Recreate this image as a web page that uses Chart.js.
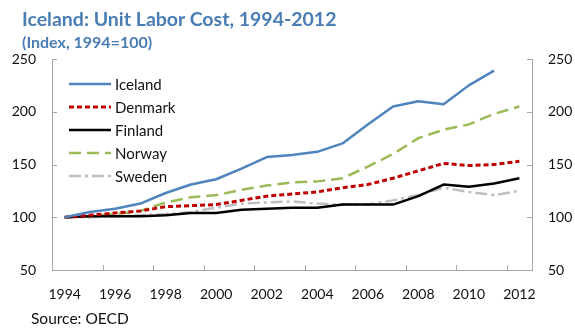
<!DOCTYPE html>
<html lang="en">
<head>
  <meta charset="UTF-8" />
  <title>Iceland: Unit Labor Cost</title>
  <script src="https://cdn.jsdelivr.net/npm/chart.js"></script>
  <style>
    html, body {
      margin: 0;
      padding: 0;
      background: #fff;
      overflow: hidden;
    }
    .wrap {
      position: relative;
      width: 575px;
      height: 329px;
      font-family: Lato, sans-serif;
    }
    .title, .subtitle, #source {
      position: absolute;
      white-space: nowrap;
    }
    .title {
      left: 22px;
      top: 6.5px;
      font-size: 19.5px;
      line-height: 24px;
      font-weight: bold;
      color: #4a7db4;
    }
    .subtitle {
      left: 22px;
      top: 32px;
      font-size: 16px;
      line-height: 19px;
      font-weight: bold;
      color: #4a7db4;
    }
    #source {
      left: 31px;
      top: 309px;
      font-size: 15.5px;
      color: #111;
    }
  </style>
</head>
<body>
<div class="wrap">
  <canvas id="myChart"></canvas>
  <div class="title">Iceland: Unit Labor Cost, 1994-2012</div>
  <div class="subtitle">(Index, 1994=100)</div>
  <div id="source">Source: OECD</div>
</div>

<script>
  const years = ['1994','1995','1996','1997','1998','1999','2000','2001','2002','2003',
                 '2004','2005','2006','2007','2008','2009','2010','2011','2012'];
  const iceland = [100,105,108,113,123,131,136,146,157,159,162,170,188,205,210,207,225,239,null];
  const denmark = [100,102,104,106,110,111,112,116,120,122,124,128,131,137,144,151,149,150,153];
  const finland = [100,101,101,101,102,104,104,107,108,109,109,112,112,112,120,131,129,132,137];
  const norway  = [100,101,103,106,114,119,121,126,130,133,134,137,148,160,175,183,188,198,205];
  const sweden  = [100,100,101,102,103,105,109,113,114,115,113,112,112,116,121,128,124,121,125];
  const yTicks  = [50, 100, 150, 200, 250];

  const font = 'Lato, sans-serif';

  // small tick marks pointing into the plot, like the original
  const innerTicks = {
    id: 'innerTicks',
    afterDraw(chart) {
      const { ctx, chartArea: a, scales } = chart;
      ctx.save();
      ctx.strokeStyle = '#a6a6a6';
      ctx.lineWidth = 1;
      ctx.beginPath();
      yTicks.forEach(v => {
        const y = Math.round(scales.y.getPixelForValue(v)) + 0.5;
        ctx.moveTo(a.left, y); ctx.lineTo(a.left + 5, y);
        ctx.moveTo(a.right, y); ctx.lineTo(a.right - 5, y);
      });
      for (let i = 2; i < years.length; i += 2) {
        const x = Math.round((scales.x.getPixelForValue(i - 1) + scales.x.getPixelForValue(i)) / 2) + 0.5;
        ctx.moveTo(x, a.bottom); ctx.lineTo(x, a.bottom - 5);
      }
      ctx.stroke();
      ctx.restore();
    }
  };

  // legend drawn inside the plot, top left
  const insideLegend = {
    id: 'insideLegend',
    afterDraw(chart) {
      const { ctx, chartArea: a } = chart;
      ctx.save();
      ctx.font = '15px ' + font;
      ctx.textBaseline = 'middle';
      chart.data.datasets.forEach((ds, i) => {
        const y = a.top + 25 + i * 23;
        const x = a.left + 17;
        ctx.strokeStyle = ds.borderColor;
        ctx.lineWidth = ds.borderWidth;
        ctx.setLineDash(ds.borderDash || []);
        ctx.beginPath();
        ctx.moveTo(x, y); ctx.lineTo(x + 42, y);
        ctx.stroke();
        ctx.setLineDash([]);
        ctx.fillStyle = '#111';
        ctx.fillText(ds.label, x + 46, y + 1);
      });
      ctx.restore();
    }
  };

  const line = (label, data, color, width, dash) => ({
    label, data,
    borderColor: color,
    backgroundColor: color,
    borderWidth: width,
    borderDash: dash,
    pointRadius: 0,
    tension: 0,
    borderJoinStyle: 'round',
    spanGaps: false
  });

  const ctx = document.getElementById('myChart').getContext('2d');
  const chart = new Chart(ctx, {
    type: 'line',
    data: {
      labels: years,
      datasets: [
        line('Iceland', iceland, '#4f84bd', 2.5, []),
        line('Denmark', denmark, '#c00000', 3, [5, 3]),
        line('Finland', finland, '#000000', 2.5, []),
        line('Norway', norway, '#9bbb59', 2.5, [12, 6]),
        line('Sweden', sweden, '#bfbfbf', 2.5, [12, 4, 3, 4])
      ]
    },
    options: {
      responsive: true,
      maintainAspectRatio: false,
      animation: false,
      layout: { padding: { left: 0, right: 0, top: 59, bottom: 0 } },
      plugins: {
        legend: { display: false },
        tooltip: { enabled: false }
      },
      scales: {
        x: {
          offset: true,
          grid: { display: true, drawOnChartArea: false, drawTicks: false, offset: true },
          border: { color: '#a6a6a6' },
          ticks: {
            autoSkip: false,
            maxRotation: 0,
            padding: 16,
            color: '#111',
            font: { family: font, size: 14 },
            callback: (v, i) => i % 2 === 0 ? years[i] : ''
          },
          afterFit: s => { s.height = 59; }
        },
        y: {
          min: 50, max: 250,
          grid: { drawOnChartArea: false, drawTicks: false },
          border: { color: '#a6a6a6' },
          ticks: { stepSize: 50, padding: 16, color: '#111', font: { family: font, size: 14 } },
          afterFit: s => { s.width = 52; }
        },
        y2: {
          position: 'right',
          min: 50, max: 250,
          grid: { drawOnChartArea: false, drawTicks: false },
          border: { color: '#a6a6a6' },
          ticks: { stepSize: 50, padding: 16, color: '#111', font: { family: font, size: 14 } },
          afterFit: s => { s.width = 43; }
        }
      }
    },
    plugins: [innerTicks, insideLegend]
  });
</script>
</body>
</html>
